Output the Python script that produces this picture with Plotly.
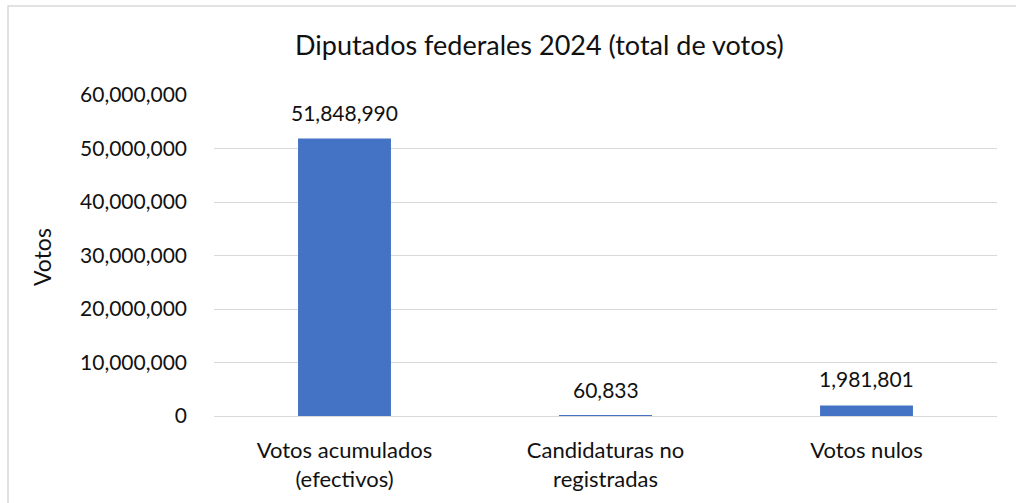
import plotly.graph_objects as go

categories = ["Votos acumulados<br>(efectivos)", "Candidaturas no<br>registradas", "Votos nulos"]
votes = [51848990, 60833, 1981801]
y_ticks = [0, 10000000, 20000000, 30000000, 40000000, 50000000, 60000000]

FONT = "Lato"
TXT = "#111111"

fig = go.Figure()
fig.add_trace(go.Bar(
    x=categories, y=votes,
    marker=dict(color="#4472C4", line=dict(width=0)),
    width=0.356,
    hoverinfo="x+y",
))

for c, v in zip(categories, votes):
    fig.add_annotation(x=c, y=v, xref="x", yref="y", text=f"{v:,}",
                       showarrow=False, yanchor="bottom", yshift=12,
                       font=dict(family=FONT, size=21, color=TXT))

fig.add_annotation(x=(539 - 214) / 783, y=(416 - 45) / 321, xref="paper", yref="paper",
                   text="Diputados federales 2024 (total de votos)", showarrow=False,
                   xanchor="center", yanchor="middle",
                   font=dict(family=FONT, size=27, color=TXT))
fig.add_annotation(x=(42 - 214) / 783, y=(416 - 257) / 321, xref="paper", yref="paper",
                   text="Votos", showarrow=False, textangle=-90,
                   xanchor="center", yanchor="middle",
                   font=dict(family=FONT, size=23, color=TXT))

fig.add_shape(type="rect", xref="paper", yref="paper",
              x0=(8 - 214) / 783, x1=(1040 - 214) / 783,
              y0=(416 - 520) / 321, y1=(416 - 6) / 321,
              line=dict(color="#D9D9D9", width=1.5), fillcolor="rgba(0,0,0,0)")

fig.update_layout(
    width=1016, height=503,
    margin=dict(l=214, r=19, t=95, b=87),
    paper_bgcolor="white", plot_bgcolor="white",
    showlegend=False,
    bargap=0.644,
    font=dict(family=FONT, size=21, color=TXT),
)
fig.update_yaxes(range=[0, 60000000], tickvals=y_ticks, tickformat=",d",
                 showgrid=True, gridcolor="#D9D9D9", gridwidth=1,
                 zeroline=False, showline=False, ticks="",
                 ticklabelstandoff=26,
                 tickfont=dict(family=FONT, size=21, color=TXT))
fig.update_xaxes(showgrid=False, showline=True, linecolor="#D9D9D9", linewidth=1,
                 ticks="", ticklabelstandoff=15,
                 tickfont=dict(family=FONT, size=22, color=TXT))

fig.write_html("out.html")
